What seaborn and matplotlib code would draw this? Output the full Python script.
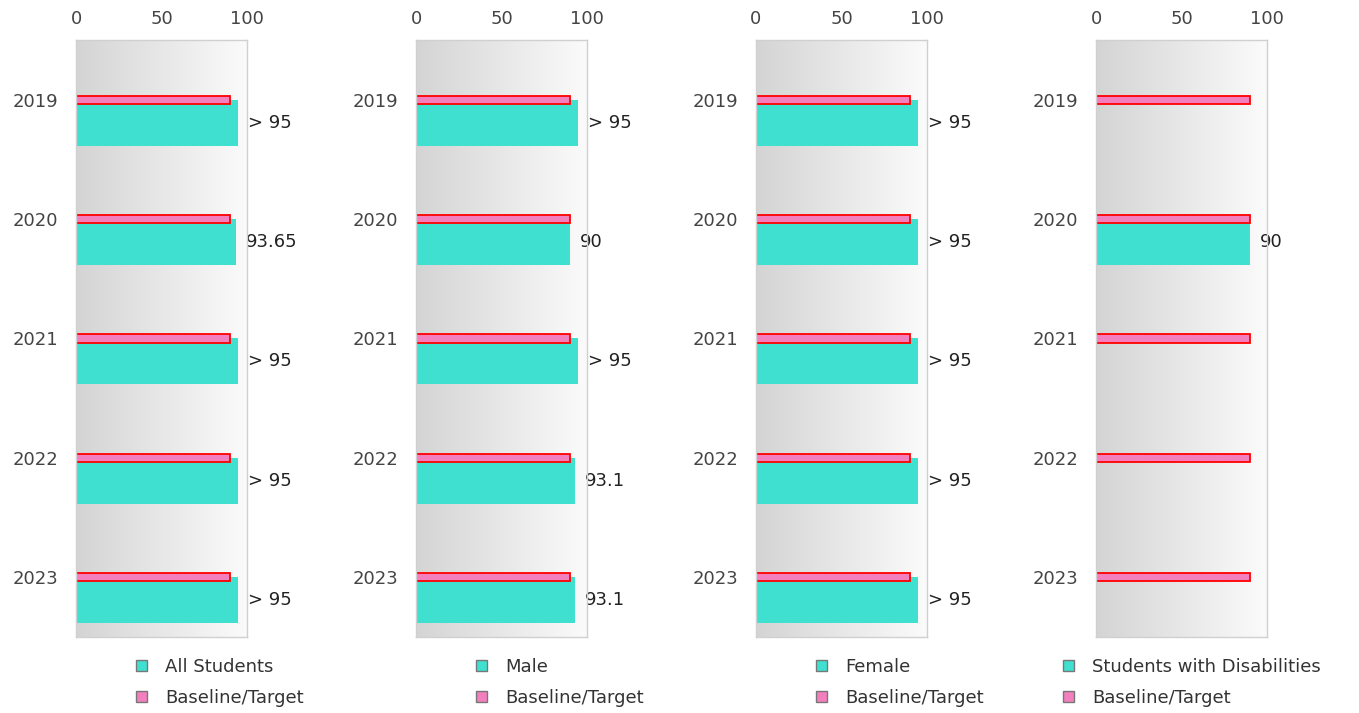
import numpy as np
import pandas as pd
import matplotlib
matplotlib.use("Agg")
import matplotlib.pyplot as plt
from matplotlib.colors import LinearSegmentedColormap
from matplotlib.patches import Patch
import seaborn as sns

# data
years = ["2019", "2020", "2021", "2022", "2023"]
groups = ["All Students", "Male", "Female", "Students with Disabilities"]
all_students = [95, 93.65, 95, 95, 95]
male = [95, 90, 95, 93.1, 93.1]
female = [95, 95, 95, 95, 95]
disabilities = [np.nan, 90, np.nan, np.nan, np.nan]
all_labels = ["> 95", "93.65", "> 95", "> 95", "> 95"]
male_labels = ["> 95", "90", "> 95", "93.1", "93.1"]
female_labels = ["> 95", "> 95", "> 95", "> 95", "> 95"]
disab_labels = ["", "90", "", "", ""]
baseline = [90, 90, 90, 90, 90]

TEAL = "#40e0d0"
PINK = "#f47fbe"
RED = "#ff0000"
FONT = 13

sns.set_theme(style="white")
plt.rcParams["font.family"] = ["DejaVu Sans"]

bg_cmap = LinearSegmentedColormap.from_list("bg", ["#d4d4d4", "#fbfbfb"])


def draw_panel(ax, values, labels, name, legend_x, fig):
    df = pd.DataFrame({"year": years, "value": values, "label": labels}).dropna(subset=["value"])

    # main series, shifted so it hangs below the category centre
    sns.barplot(data=df, x="value", y="year", order=years, orient="h", width=0.385,
                color=TEAL, saturation=1, errorbar=None, linewidth=0, ax=ax, zorder=1.5)
    for p in ax.patches:
        p.set_y(p.get_y() + p.get_height() / 2)

    base = pd.DataFrame({"year": years, "value": baseline})
    sns.barplot(data=base, x="value", y="year", order=years, orient="h", width=0.07,
                color=PINK, saturation=1, errorbar=None, edgecolor=RED, linewidth=1.3,
                ax=ax, zorder=1.6)

    for _, row in df.iterrows():
        i = years.index(row["year"])
        ax.annotate(row["label"], xy=(row["value"], i + 0.1925), xytext=(7, 0),
                    textcoords="offset points", va="center", ha="left",
                    fontsize=FONT, color="#222222", zorder=1.7, annotation_clip=False)

    grad = np.linspace(0, 1, 256).reshape(1, -1)
    ax.imshow(grad, cmap=bg_cmap, extent=[0, 100, 4.5, -0.5], aspect="auto", zorder=0.5)

    ax.set_xlim(0, 100)
    ax.set_ylim(4.5, -0.5)
    ax.xaxis.tick_top()
    ax.set_xticks([0, 50, 100])
    ax.set_xlabel("")
    ax.set_ylabel("")
    ax.tick_params(axis="x", length=0, pad=9, labelsize=FONT, colors="#444444")
    ax.tick_params(axis="y", length=0, pad=13, labelsize=FONT, colors="#444444")
    for s in ax.spines.values():
        s.set_visible(True)
        s.set_color("#d0d0d0")
        s.set_linewidth(1)

    handles = [Patch(facecolor=TEAL, edgecolor="#777777"),
               Patch(facecolor=PINK, edgecolor="#777777")]
    fig.legend(handles, [name, "Baseline/Target"], loc="upper left",
               bbox_to_anchor=(legend_x / 1359, 1 - 658 / 713), frameon=False,
               handlelength=0.6, handleheight=0.6, handletextpad=1.0,
               labelspacing=0.72, borderpad=0, borderaxespad=0, fontsize=FONT,
               labelcolor="#333333")


fig = plt.figure(figsize=(13.59, 7.13), dpi=100)
series = [all_students, male, female, disabilities]
labels = [all_labels, male_labels, female_labels, disab_labels]
legend_lefts = [136, 476, 816, 1063]

for k in range(4):
    ax = fig.add_axes([(76 + 340 * k) / 1359, 76 / 713, 171 / 1359, 597 / 713])
    draw_panel(ax, series[k], labels[k], groups[k], legend_lefts[k], fig)

fig.savefig("out.png", dpi=100)
